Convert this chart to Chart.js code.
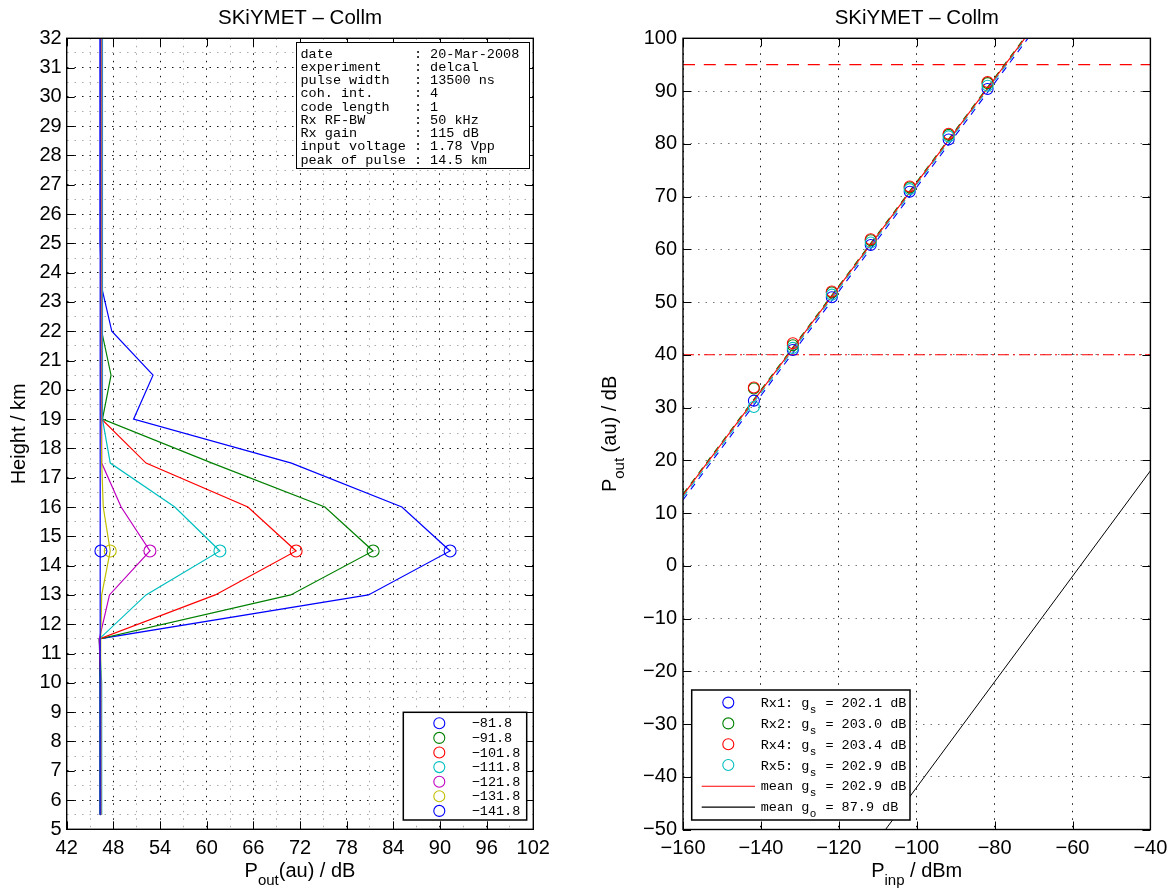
<!DOCTYPE html>
<html>
<head>
<meta charset="utf-8">
<script src="https://cdn.jsdelivr.net/npm/chart.js@4.4.0/dist/chart.umd.min.js"></script>
<style>
html, body { margin: 0; padding: 0; background: #fff; overflow: hidden; }
#left { position: absolute; left: 0; top: 0; }
#right { position: absolute; left: 590px; top: 0; }
</style>
</head>
<body>
<canvas id="left" width="600" height="890"></canvas>
<canvas id="right" width="600" height="890"></canvas>
<script>
// ---------- left panel: power profiles vs height
const heights = [5.5, 7, 8.5, 10, 11.5, 13, 14.5, 16, 17.5, 19, 20.5, 22, 23.5, 25, 26.5, 28, 29.5, 31, 32.5]
const levelLabels = ['-81.8', '-91.8', '-101.8', '-111.8', '-121.8', '-131.8', '-141.8']
const prof81 = [46.3, 46.3, 46.3, 46.3, 46.2, 80.8, 91.3, 85.1, 70.9, 50.6, 53.1, 47.8, 46.5, 46.3, 46.3, 46.3, 46.3, 46.3, 46.3]
const prof91 = [46.3, 46.3, 46.3, 46.3, 46.2, 70.8, 81.4, 75.2, 60.7, 46.6, 47.7, 46.5, 46.4, 46.4, 46.4, 46.4, 46.4, 46.4, 46.4]
const prof101 = [46.4, 46.4, 46.4, 46.4, 46.2, 61.1, 71.5, 65.3, 52.2, 46.5, 46.4, 46.4, 46.4, 46.4, 46.4, 46.4, 46.4, 46.4, 46.4]
const prof111 = [46.5, 46.5, 46.5, 46.5, 46.2, 52.2, 61.7, 55.9, 47.6, 46.6, 46.6, 46.6, 46.6, 46.6, 46.6, 46.6, 46.6, 46.6, 46.6]
const prof121 = [46.4, 46.4, 46.4, 46.4, 46.2, 47.5, 52.7, 49.0, 46.5, 46.5, 46.5, 46.5, 46.5, 46.5, 46.5, 46.5, 46.5, 46.5, 46.5]
const prof131 = [46.4, 46.4, 46.4, 46.4, 46.3, 46.5, 47.6, 46.7, 46.5, 46.4, 46.4, 46.4, 46.4, 46.4, 46.4, 46.4, 46.4, 46.4, 46.4]
const prof141 = [46.3, 46.3, 46.3, 46.3, 46.3, 46.3, 46.4, 46.3, 46.3, 46.3, 46.3, 46.3, 46.3, 46.3, 46.3, 46.3, 46.3, 46.3, 46.3]
const profiles = [prof81, prof91, prof101, prof111, prof121, prof131, prof141]
const peakHeight = 14.5

const leftXTicks = [42, 48, 54, 60, 66, 72, 78, 84, 90, 96, 102]
const leftYTicks = [5, 6, 7, 8, 9, 10, 11, 12, 13, 14, 15, 16, 17, 18, 19, 20, 21, 22, 23, 24, 25, 26, 27, 28, 29, 30, 31, 32]

const infoKeys = ['date', 'experiment', 'pulse width', 'coh. int.', 'code length', 'Rx RF-BW', 'Rx gain', 'input voltage', 'peak of pulse']
const infoValues = ['20-Mar-2008', 'delcal', '13500 ns', '4', '1', '50 kHz', '115 dB', '1.78 Vpp', '14.5 km']

// ---------- right panel: calibration curve
const pInp = [-141.8, -131.8, -121.8, -111.8, -101.8, -91.8, -81.8]
const rx1Out = [31.3, 40.9, 50.9, 60.8, 70.9, 80.8, 90.4]
const rx2Out = [33.6, 41.8, 51.8, 61.7, 71.7, 81.7, 91.5]
const rx4Out = [33.8, 42.2, 52.0, 61.9, 71.9, 81.9, 91.7]
const rx5Out = [30.1, 41.3, 51.4, 61.3, 71.4, 81.4, 91.0]
const rxNames = ['Rx1', 'Rx2', 'Rx4', 'Rx5']
const rxGains = ['202.1', '203.0', '203.4', '202.9']
const meanGs = '202.9'
const meanGo = '87.9'

const fitX = [-160, -70]
const rx1Fit = [12.5, 101.4]
const rx2Fit = [13.6, 102.4]
const rx5Fit = [13.0, 101.9]
const meanFit = [13.4, 102.2]
const goFitX = [-108, -40]
const goFit = [-50, 18]
const upperLimit = 95
const lowerLimit = 40

const rightXTicks = [-160, -140, -120, -100, -80, -60, -40]
const rightYTicks = [-50, -40, -30, -20, -10, 0, 10, 20, 30, 40, 50, 60, 70, 80, 90, 100]

// ---------- styling
const profileColors = ['#0000ff', '#008000', '#ff0000', '#00bfbf', '#bf00bf', '#bfbf00', '#0000ff']
const rxColors = ['#0000ff', '#008000', '#ff0000', '#00bfbf']
const SANS = '"Liberation Sans", Arial, sans-serif'
const MONO = '"Liberation Mono", "Courier New", monospace'
const minus = v => String(v).replace('-', '\u2212')

function pts(xs, ys) { return xs.map((x, i) => ({ x: x, y: ys[i] })) }

// draws 'P_{out}(au) / dB' style text, returns nothing
function texText(ctx, str, x, y, align, size, subSize, drop, family) {
  const parts = []
  const re = /_\{([^}]*)\}/g
  let last = 0, m
  while ((m = re.exec(str))) {
    if (m.index > last) parts.push({ t: str.slice(last, m.index), sub: false })
    parts.push({ t: m[1], sub: true })
    last = re.lastIndex
  }
  if (last < str.length) parts.push({ t: str.slice(last), sub: false })
  let w = 0
  parts.forEach(p => {
    ctx.font = (p.sub ? subSize : size) + 'px ' + family
    p.w = ctx.measureText(p.t).width
    w += p.w
  })
  let cx = align === 'center' ? x - w / 2 : x
  ctx.textAlign = 'left'
  ctx.textBaseline = 'alphabetic'
  parts.forEach(p => {
    ctx.font = (p.sub ? subSize : size) + 'px ' + family
    ctx.fillText(p.t, cx, y + (p.sub ? drop : 0))
    cx += p.w
  })
}

function framePlugin(xMajor, yMajor, extra) {
  return {
    id: 'frame',
    afterDraw(chart) {
      const ctx = chart.ctx
      const a = chart.chartArea
      const xs = chart.scales.x, ys = chart.scales.y
      ctx.save()
      ctx.strokeStyle = '#000'
      ctx.lineWidth = 1
      ctx.beginPath()
      xMajor.forEach(v => {
        const p = Math.round(xs.getPixelForValue(v)) + 0.5
        ctx.moveTo(p, a.bottom); ctx.lineTo(p, a.bottom - 8)
        ctx.moveTo(p, a.top); ctx.lineTo(p, a.top + 8)
      })
      yMajor.forEach(v => {
        const p = Math.round(ys.getPixelForValue(v)) + 0.5
        ctx.moveTo(a.left, p); ctx.lineTo(a.left + 8, p)
        ctx.moveTo(a.right, p); ctx.lineTo(a.right - 8, p)
      })
      ctx.stroke()
      ctx.lineWidth = 1.4
      ctx.strokeRect(a.left, a.top, a.right - a.left, a.bottom - a.top)
      ctx.fillStyle = '#000'
      extra(ctx, a)
      ctx.restore()
    }
  }
}

function axisOpts(min, max, gridVals, majors, major, minor, fit, pad) {
  return {
    type: 'linear', min: min, max: max,
    afterBuildTicks: s => { s.ticks = gridVals.map(v => ({ value: v })) },
    afterFit: fit,
    ticks: {
      autoSkip: false, maxRotation: 0, padding: pad, color: '#000',
      font: { family: SANS, size: 20 },
      callback: v => majors.includes(v) ? minus(v) : ''
    },
    grid: {
      drawTicks: false, lineWidth: 1,
      color: c => majors.includes(c.tick.value) ? major : minor
    },
    border: { display: false, dash: [1.5, 6] }
  }
}

// ---------- left chart
const leftGridX = []
leftXTicks.forEach((v, i) => { leftGridX.push(v); if (i < leftXTicks.length - 1) leftGridX.push(v + 3) })
const leftGridY = []
leftYTicks.forEach((v, i) => { leftGridY.push(v); if (i < leftYTicks.length - 1) leftGridY.push(v + 0.5) })

const leftSets = []
profiles.forEach((p, i) => {
  leftSets.push({
    data: pts(p, heights), showLine: true, borderColor: profileColors[i], borderWidth: 1.2,
    pointRadius: 0, fill: false
  })
})
const pk = heights.indexOf(peakHeight)
profiles.forEach((p, i) => {
  leftSets.push({
    data: [{ x: p[pk], y: peakHeight }], showLine: false, pointStyle: 'circle',
    pointRadius: 6, pointBorderWidth: 1.1, pointBorderColor: profileColors[i],
    pointBackgroundColor: 'rgba(0,0,0,0)'
  })
})
leftSets.forEach((d, i) => { d.order = -i })

new Chart(document.getElementById('left'), {
  type: 'scatter',
  data: { datasets: leftSets },
  options: {
    responsive: false, animation: false, devicePixelRatio: 1,
    layout: { padding: { top: 38.3, right: 66.7, left: 0, bottom: 0 } },
    plugins: { legend: { display: false }, tooltip: { enabled: false } },
    scales: {
      x: axisOpts(42, 102, leftGridX, leftXTicks, '#111', '#aaa', s => { s.height = 60.7 }, 7),
      y: axisOpts(5, 32, leftGridY, leftYTicks, '#111', '#aaa', s => { s.width = 66.7 }, 5)
    }
  },
  plugins: [framePlugin(leftXTicks, leftYTicks, (ctx, a) => {
    // title and axis labels
    ctx.font = '20.5px ' + SANS
    ctx.textAlign = 'center'
    ctx.textBaseline = 'alphabetic'
    ctx.fillText('SKiYMET \u2013 Collm', (a.left + a.right) / 2, 24)
    texText(ctx, 'P_{out}(au) / dB', (a.left + a.right) / 2, 877, 'center', 20, 15, 8, SANS)
    ctx.save()
    ctx.translate(25, (a.top + a.bottom) / 2)
    ctx.rotate(-Math.PI / 2)
    texText(ctx, 'Height / km', 0, 0, 'center', 20, 15, 8, SANS)
    ctx.restore()
    // info box
    ctx.fillStyle = '#fff'
    ctx.fillRect(296, 42.3, 233.3, 126)
    ctx.lineWidth = 1
    ctx.strokeStyle = '#000'
    ctx.strokeRect(296.5, 42.5, 233, 126)
    ctx.fillStyle = '#000'
    ctx.font = '13.5px ' + MONO
    ctx.textAlign = 'left'
    infoKeys.forEach((k, i) => {
      ctx.fillText(k.padEnd(14, ' ') + ': ' + infoValues[i], 300.5, 57.5 + i * 13.25)
    })
    // legend
    ctx.fillStyle = '#fff'
    ctx.fillRect(403.3, 712.3, 123.4, 107.7)
    ctx.lineWidth = 1.5
    ctx.strokeRect(403.3, 712.3, 123.4, 107.7)
    ctx.textBaseline = 'middle'
    levelLabels.forEach((l, i) => {
      const y = 723.3 + i * 14.6
      ctx.beginPath()
      ctx.lineWidth = 1.1
      ctx.strokeStyle = profileColors[i]
      ctx.arc(439.3, y, 5.5, 0, Math.PI * 2)
      ctx.stroke()
      ctx.fillStyle = '#000'
      ctx.fillText(minus(l), 471.7, y + 0.5)
    })
  })]
})

// ---------- right chart
const rightSets = [
  { data: pts(fitX, [upperLimit, upperLimit]).map((p, i) => ({ x: i ? -40 : -160, y: p.y })), showLine: true, borderColor: '#ff0000', borderWidth: 1.1, borderDash: [12, 8.8], pointRadius: 0 },
  { data: pts(fitX, [lowerLimit, lowerLimit]).map((p, i) => ({ x: i ? -40 : -160, y: p.y })), showLine: true, borderColor: '#ff0000', borderWidth: 1.1, borderDash: [11, 4, 2, 4], pointRadius: 0 },
  { data: pts(goFitX, goFit), showLine: true, borderColor: '#000', borderWidth: 1, pointRadius: 0 },
  { data: pts(fitX, rx1Fit), showLine: true, borderColor: rxColors[0], borderWidth: 1.1, borderDash: [7, 6], pointRadius: 0 },
  { data: pts(fitX, rx2Fit), showLine: true, borderColor: rxColors[1], borderWidth: 1.1, borderDash: [7, 6], pointRadius: 0 },
  { data: pts(fitX, rx5Fit), showLine: true, borderColor: rxColors[3], borderWidth: 1.1, borderDash: [7, 6], pointRadius: 0 },
  { data: pts(fitX, meanFit), showLine: true, borderColor: '#ff0000', borderWidth: 1.1, pointRadius: 0 }
]
;[rx1Out, rx2Out, rx4Out, rx5Out].forEach((ys, i) => {
  rightSets.push({
    data: pts(pInp, ys), showLine: false, pointStyle: 'circle', pointRadius: 5.5,
    pointBorderWidth: 1.1, pointBorderColor: rxColors[i], pointBackgroundColor: 'rgba(0,0,0,0)'
  })
})
rightSets.forEach((d, i) => { d.order = -i })

new Chart(document.getElementById('right'), {
  type: 'scatter',
  data: { datasets: rightSets },
  options: {
    responsive: false, animation: false, devicePixelRatio: 1,
    layout: { padding: { top: 38.3, right: 39.6, left: 0, bottom: 0 } },
    plugins: { legend: { display: false }, tooltip: { enabled: false } },
    scales: {
      x: axisOpts(-160, -40, rightXTicks, rightXTicks, '#111', '#111', s => { s.height = 60.5 }, 7),
      y: axisOpts(-50, 100, rightYTicks, rightYTicks, '#777', '#777', s => { s.width = 93 }, 6)
    }
  },
  plugins: [framePlugin(rightXTicks, rightYTicks, (ctx, a) => {
    ctx.font = '20.5px ' + SANS
    ctx.textAlign = 'center'
    ctx.textBaseline = 'alphabetic'
    ctx.fillText('SKiYMET \u2013 Collm', (a.left + a.right) / 2, 24)
    texText(ctx, 'P_{inp} / dBm', (a.left + a.right) / 2, 877, 'center', 20, 15, 8, SANS)
    ctx.save()
    ctx.translate(26, (a.top + a.bottom) / 2)
    ctx.rotate(-Math.PI / 2)
    texText(ctx, 'P_{out} (au) / dB', 0, 0, 'center', 20, 15, 8, SANS)
    ctx.restore()
    // legend
    const L = 101.7, T = 690, W = 218.3, H = 130
    ctx.fillStyle = '#fff'
    ctx.fillRect(L, T, W, H)
    ctx.lineWidth = 1.5
    ctx.strokeStyle = '#000'
    ctx.strokeRect(L, T, W, H)
    const rows = rxNames.map((n, i) => ({ kind: 'o', color: rxColors[i], pre: n + ': g', sub: 's', post: ' = ' + rxGains[i] + ' dB' }))
    rows.push({ kind: '-', color: '#ff0000', pre: 'mean g', sub: 's', post: ' = ' + meanGs + ' dB' })
    rows.push({ kind: '-', color: '#000', pre: 'mean g', sub: 'o', post: ' = ' + meanGo + ' dB' })
    rows.forEach((r, i) => {
      const y = 702.6 + i * 20.8
      ctx.strokeStyle = r.color
      ctx.lineWidth = 1.1
      ctx.beginPath()
      if (r.kind === 'o') ctx.arc(138.3, y, 5.5, 0, Math.PI * 2)
      else { ctx.moveTo(111.7, y + 0.5); ctx.lineTo(165, y + 0.5) }
      ctx.stroke()
      ctx.fillStyle = '#000'
      ctx.textAlign = 'left'
      ctx.textBaseline = 'alphabetic'
      ctx.font = '13.5px ' + MONO
      const x0 = 170.7
      ctx.fillText(r.pre, x0, y + 4.5)
      const w = ctx.measureText(r.pre).width
      ctx.font = '11px ' + MONO
      ctx.fillText(r.sub, w + x0 + 0.5, y + 10.5)
      ctx.font = '13.5px ' + MONO
      ctx.fillText(r.post, x0 + w + 8, y + 4.5)
    })
  })]
})
</script>
</body>
</html>
